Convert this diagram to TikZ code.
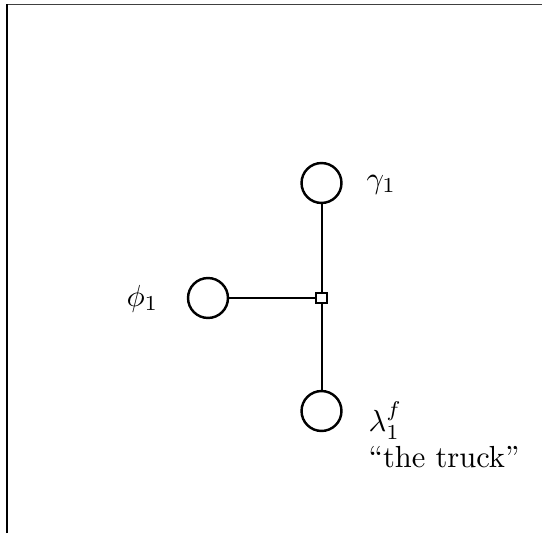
\documentclass[tikz,border=0pt]{standalone}
\begin{document}
\begin{tikzpicture}[x=0.328pt,y=-0.328pt,
  varnode/.style={draw,circle,line width=0.8pt,minimum size=13.1pt,inner sep=0pt},
  facnode/.style={draw,rectangle,line width=0.65pt,minimum size=3.3pt,inner sep=0pt,fill=white},
  edge/.style={line width=0.65pt},
  lbl/.style={inner sep=0pt,font=\normalsize}]
\useasboundingbox (0,0) rectangle (542,533);
% frame
\coordinate (fbl) at (7,533);
\coordinate (ftl) at (7,4);
\coordinate (ftr) at (542,4);
\draw[line width=0.3pt,black!75] (ftl) -- (ftr);
\draw[line width=0.65pt] (fbl) -- (ftl);
% nodes
\node[varnode] (g) at (321.5,183) {};
\node[varnode] (p) at (208,298) {};
\node[varnode] (l) at (321.5,411) {};
\node[facnode] (f) at (321.5,298) {};
\draw[edge] (g) -- (f);
\draw[edge] (p) -- (f);
\draw[edge] (l) -- (f);
\node[facnode] at (f) {};
% labels
\node[lbl,anchor=base west] (gl) at (366,188) {$\gamma_1$};
\node[lbl,anchor=base east] (pl) at (159,306) {$\phi_1$};
\node[lbl,anchor=base west] (ll) at (368,431) {$\lambda_1^f$};
\node[lbl,anchor=base west] (tl) at (368,467) {“the truck”};
\end{tikzpicture}
\end{document}
